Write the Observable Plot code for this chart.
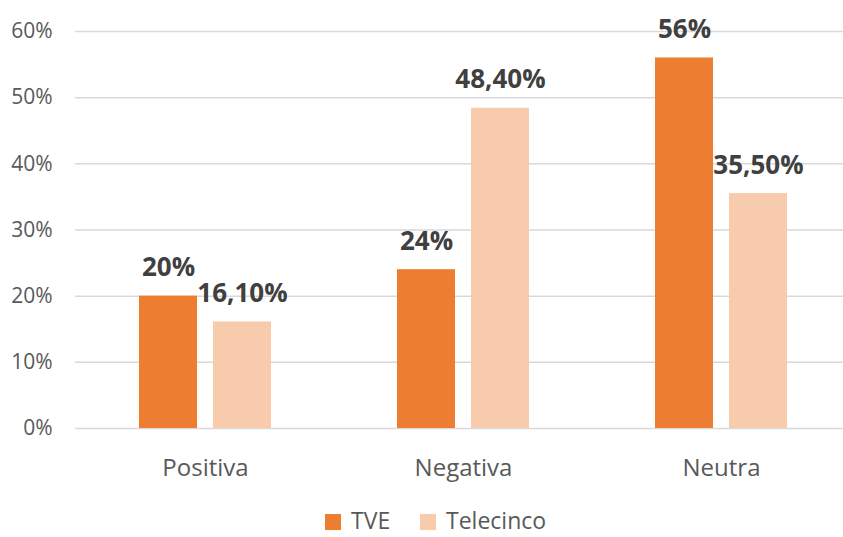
<!DOCTYPE html>
<html>
<head>
<meta charset="utf-8">
<script src="https://cdn.jsdelivr.net/npm/d3@7"></script>
<script src="https://cdn.jsdelivr.net/npm/@observablehq/plot@0.6"></script>
<style>
  html, body { margin: 0; background: #fff; font-family: "Open Sans", sans-serif; overflow: hidden; }
  #chart svg { display: block; }
  .legend { position: relative; height: 31px; font-size: 23px; line-height: 31px; color: #595959; }
  .legend .item { position: absolute; top: 0; display: flex; align-items: center; height: 31px; white-space: nowrap; }
  .legend .swatch { width: 16px; height: 16px; margin-right: 10px; margin-top: 3px; }
</style>
</head>
<body>
<div id="chart"></div>
<div class="legend">
  <div class="item" style="left:325px"><span class="swatch" style="background:#ED7D31"></span>TVE</div>
  <div class="item" style="left:420px"><span class="swatch" style="background:#F8CBAD"></span>Telecinco</div>
</div>
<script>
// Valoración de la cobertura por cadena (porcentaje de noticias)
const categories = ["Positiva", "Negativa", "Neutra"];
const tve = [20, 24, 56];
const telecinco = [16.1, 48.4, 35.5];
const yTicks = [0, 10, 20, 30, 40, 50, 60];

const rows = categories.map((c, i) => ({category: c, tve: tve[i], telecinco: telecinco[i]}));

const fmtInt = v => `${v}%`;
const fmtDec = v => v.toFixed(2).replace(".", ",") + "%";

const chart = Plot.plot({
  width: 843,
  height: 505,
  marginLeft: 75,
  marginRight: 0,
  marginTop: 31,
  marginBottom: 77,
  style: {fontFamily: "Open Sans, sans-serif", background: "#fff"},
  x: {type: "band", domain: categories, range: [75.5, 849.5], padding: 0, label: null},
  y: {domain: [0, 60], label: null},
  marks: [
    Plot.ruleY(yTicks, {stroke: "#d9d9d9", strokeWidth: 1.5}),
    Plot.axisY({ticks: yTicks, tickSize: 0, tickPadding: 23, tickFormat: d => d + "%", fontSize: 21, fill: "#595959", label: null}),
    Plot.axisX({tickSize: 0, tickPadding: 30, fontSize: 24, fill: "#595959", label: null}),
    Plot.barY(rows, {x: "category", y: "tve", fill: "#ED7D31", insetLeft: 63, insetRight: 137}),
    Plot.barY(rows, {x: "category", y: "telecinco", fill: "#F8CBAD", insetLeft: 137, insetRight: 63}),
    Plot.text(rows, {x: "category", y: "tve", text: d => fmtInt(d.tve), dx: -37, dy: -20, lineAnchor: "bottom", fontSize: 26, fontWeight: "bold", fill: "#404040"}),
    Plot.text(rows, {x: "category", y: "telecinco", text: d => fmtDec(d.telecinco), dx: 37, dy: -20, lineAnchor: "bottom", fontSize: 26, fontWeight: "bold", fill: "#404040"})
  ]
});
document.getElementById("chart").append(chart);
</script>
</body>
</html>
